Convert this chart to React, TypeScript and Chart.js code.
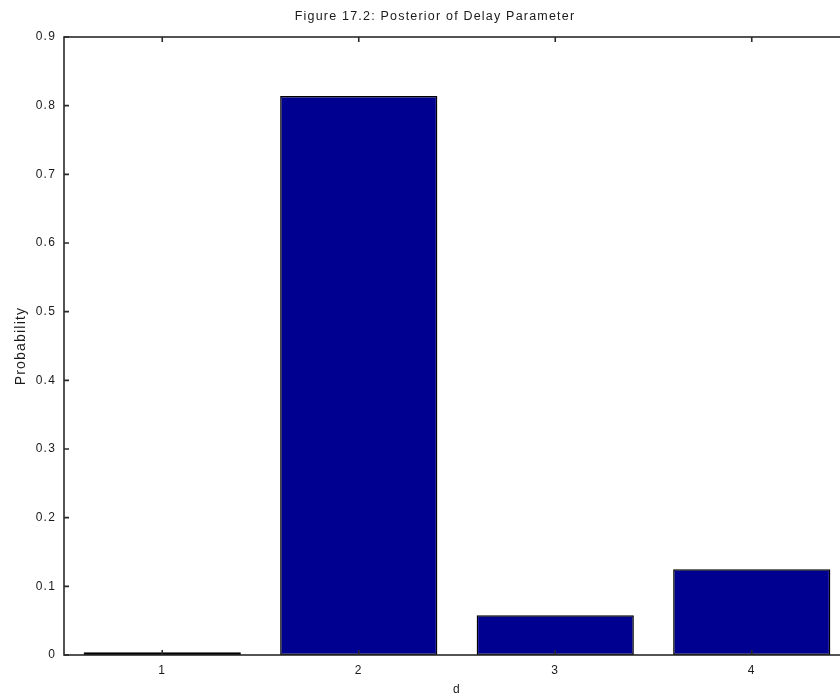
import React, { useEffect, useRef } from "react";
import { Chart, registerables } from "chart.js";

Chart.register(...registerables);

const categories = ["1", "2", "3", "4"];
const probabilities = [0.004, 0.814, 0.058, 0.125];
const yTickValues = [0, 0.1, 0.2, 0.3, 0.4, 0.5, 0.6, 0.7, 0.8, 0.9];
const titleText = "Figure 17.2: Posterior of Delay Parameter";
const xAxisLabel = "d";
const yAxisLabel = "Probability";

const FONT = "'Liberation Sans', Arial, sans-serif";
const AXIS_COLOR = "#2a2a2a";
const TEXT_COLOR = "#1a1a1a";
const BAR_COLOR = "#000090";

const spacingPlugin = {
  id: "letterSpacing",
  beforeDraw(chart: any) {
    try {
      (chart.ctx as any).letterSpacing = "1.2px";
    } catch (e) {
      /* unsupported */
    }
  },
};

const framePlugin = {
  id: "frameTicks",
  afterDatasetsDraw(chart: any) {
    const { ctx, chartArea: a, scales } = chart;
    ctx.save();
    ctx.strokeStyle = AXIS_COLOR;
    ctx.lineWidth = 1.6;
    ctx.strokeRect(a.left, a.top, a.right - a.left, a.bottom - a.top);
    const len = 5;
    ctx.beginPath();
    scales.x.ticks.forEach((_: any, i: number) => {
      const px = scales.x.getPixelForTick(i);
      ctx.moveTo(px, a.bottom);
      ctx.lineTo(px, a.bottom - len);
      ctx.moveTo(px, a.top);
      ctx.lineTo(px, a.top + len);
    });
    scales.y.ticks.forEach((_: any, i: number) => {
      const py = scales.y.getPixelForTick(i);
      ctx.moveTo(a.left, py);
      ctx.lineTo(a.left + len, py);
      ctx.moveTo(a.right, py);
      ctx.lineTo(a.right - len, py);
    });
    ctx.stroke();
    ctx.restore();
  },
};

export default function App() {
  const canvasRef = useRef<HTMLCanvasElement | null>(null);

  useEffect(() => {
    if (!canvasRef.current) return;
    const chart = new Chart(canvasRef.current, {
      type: "bar",
      data: {
        labels: categories,
        datasets: [
          {
            label: yAxisLabel,
            data: probabilities,
            backgroundColor: BAR_COLOR,
            borderColor: "#000000",
            borderWidth: 1.5,
            borderSkipped: false,
            categoryPercentage: 1,
            barPercentage: 0.8,
          },
        ],
      },
      options: {
        animation: false,
        responsive: true,
        maintainAspectRatio: false,
        layout: { padding: 0 },
        plugins: {
          legend: { display: false },
          tooltip: { enabled: false },
          title: {
            display: true,
            text: titleText,
            color: TEXT_COLOR,
            font: { family: FONT, size: 12.5, weight: "normal" },
            padding: { top: 9.5, bottom: 12.5 },
          },
        },
        scales: {
          x: {
            type: "category",
            offset: true,
            grid: { display: false, drawTicks: false },
            border: { display: false },
            ticks: {
              color: TEXT_COLOR,
              font: { family: FONT, size: 12 },
              padding: 8.5,
              maxRotation: 0,
            },
            title: {
              display: true,
              text: xAxisLabel,
              color: TEXT_COLOR,
              font: { family: FONT, size: 12 },
              padding: { top: 0, bottom: 1 },
            },
            afterFit(scale: any) {
              scale.height = 43;
            },
          },
          y: {
            min: 0,
            max: 0.9,
            grid: { display: false, drawTicks: false },
            border: { display: false },
            afterBuildTicks(scale: any) {
              scale.ticks = yTickValues.map((v) => ({ value: v }));
            },
            ticks: {
              color: TEXT_COLOR,
              font: { family: FONT, size: 12 },
              padding: 8,
              callback: (v: any) => String(Math.round(Number(v) * 10) / 10),
            },
            title: {
              display: true,
              text: yAxisLabel,
              color: TEXT_COLOR,
              font: { family: FONT, size: 14 },
              padding: { top: 13, bottom: 0 },
            },
            afterFit(scale: any) {
              scale.width = 64;
            },
          },
          yRight: {
            type: "linear",
            position: "right",
            min: 0,
            max: 0.9,
            grid: { display: false, drawTicks: false },
            border: { display: false },
            ticks: { display: false },
            afterFit(scale: any) {
              scale.width = 20;
            },
          },
        },
      },
      plugins: [spacingPlugin, framePlugin],
    });
    return () => chart.destroy();
  }, []);

  return (
    <div
      style={{
        position: "fixed",
        left: 0,
        top: 0,
        width: 840,
        height: 698,
        overflow: "hidden",
        background: "#ffffff",
      }}
    >
      <div style={{ position: "relative", width: 870, height: 698 }}>
        <canvas ref={canvasRef} />
      </div>
    </div>
  );
}
